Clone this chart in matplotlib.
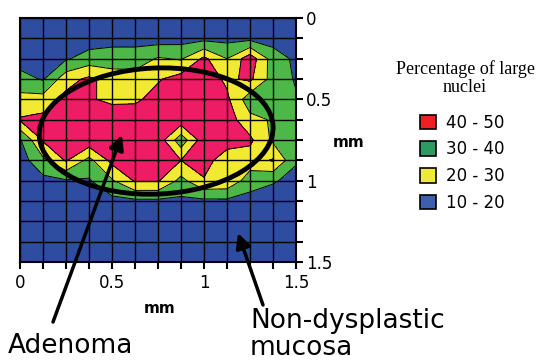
import numpy as np
import matplotlib
matplotlib.use("Agg")
import matplotlib.pyplot as plt
from matplotlib.patches import Ellipse, Patch

# percentage of large nuclei on a 13 x 13 grid, 0.125 mm spacing (rows = y, cols = x)
x_mm = np.arange(13) * 0.125
y_mm = np.arange(13) * 0.125
pct = np.array([
    [14, 14, 14, 14, 14, 14, 14, 14, 14, 14, 14, 14, 14],
    [14, 14, 14, 15, 17, 17, 15, 16, 17, 17, 17, 16, 14],
    [15, 16, 19, 24, 24, 24, 31, 29, 42, 30, 46, 25, 18],
    [24, 19, 36, 42, 36, 35, 39, 44, 46, 38, 42, 26, 19],
    [33, 34, 43, 41, 38, 38, 44, 47, 47, 42, 24, 27, 21],
    [41, 43, 46, 46, 46, 47, 47, 46, 47, 45, 33, 29, 22],
    [19, 41, 46, 47, 47, 47, 46, 24, 46, 46, 42, 28, 24],
    [15, 28, 41, 27, 43, 45, 46, 40, 45, 33, 35, 41, 21],
    [13, 17, 19, 19, 29, 41, 41, 27, 39, 38, 25, 21, 17],
    [13, 14, 15, 16, 17, 18, 18, 18, 18, 18, 16, 15, 14],
    [13, 13, 13, 13, 13, 13, 13, 13, 13, 13, 13, 13, 13],
    [13, 13, 13, 13, 13, 13, 13, 13, 13, 13, 13, 13, 13],
    [13, 13, 13, 13, 13, 13, 13, 13, 13, 13, 13, 13, 13],
])
levels = [10, 20, 30, 40, 50]
map_colors = ['#2e4da0', '#4db848', '#f2e932', '#ee1c64']

legend_labels = ['40 - 50', '30 - 40', '20 - 30', '10 - 20']
legend_colors = ['#ee2024', '#2e9a62', '#efea3a', '#3d5fad']

fig = plt.figure(figsize=(5.38, 3.61), dpi=100)
ax = fig.add_axes([20/538, 1-262/361, 276/538, 244/361])

ax.contourf(x_mm, y_mm, pct, levels=levels, colors=map_colors)
ax.contour(x_mm, y_mm, pct, levels=levels[1:-1], colors='black', linewidths=0.7)

ax.set_xlim(0, 1.5)
ax.set_ylim(1.5, 0)
ax.set_xticks([0, 0.5, 1, 1.5])
ax.set_xticklabels(['0', '0.5', '1', '1.5'])
ax.set_yticks([0, 0.5, 1, 1.5])
ax.set_yticklabels(['0', '0.5', '1', '1.5'])
ax.set_xticks(x_mm, minor=True)
ax.set_yticks(y_mm, minor=True)
ax.yaxis.tick_right()
ax.tick_params(which='both', direction='out', length=5, width=1.5, labelsize=12,
               bottom=True, right=True, left=False, top=False)
ax.tick_params(axis='x', pad=4)
ax.tick_params(axis='y', pad=2)
ax.grid(which='both', color='black', linewidth=1)
ax.set_axisbelow(False)
for s in ax.spines.values():
    s.set_linewidth(1.5)

ax.set_xlabel('mm', fontweight='bold', fontsize=11)
ax.xaxis.set_label_coords(0.507, -0.16)
ax.set_ylabel('mm', fontweight='bold', fontsize=11, rotation=0)
ax.yaxis.set_label_position('right')
ax.yaxis.set_label_coords(1.19, 0.52)

# adenoma outline
ax.add_patch(Ellipse((0.74, 0.695), 1.272, 0.775, angle=-3, fill=False,
                     edgecolor='black', linewidth=3.5, zorder=5))

arrow = dict(arrowstyle='-|>', lw=2.5, color='black', mutation_scale=22, shrinkA=0, shrinkB=0)
ax.annotate('', xy=(0.554, 0.719), xycoords='data',
            xytext=(53, 361-322), textcoords='figure pixels',
            arrowprops=arrow, annotation_clip=False, zorder=6)
ax.annotate('', xy=(1.185, 1.322), xycoords='data',
            xytext=(263, 361-305), textcoords='figure pixels',
            arrowprops=arrow, annotation_clip=False, zorder=6)

fig.text(8/538, 8/361, 'Adenoma', fontsize=19, va='baseline', ha='left')
fig.text(250/538, 1-308/361, 'Non-dysplastic\nmucosa', fontsize=19, va='top', ha='left',
         linespacing=1.05)

fig.text(465/538, 1-60/361, 'Percentage of large\nnuclei', family='Liberation Serif',
         fontsize=13, ha='center', va='top', linespacing=1.1)
handles = [Patch(facecolor=c, edgecolor='black', linewidth=1.2) for c in legend_colors]
fig.legend(handles, legend_labels, loc='upper left', bbox_to_anchor=(413/538, 1-107/361),
           frameon=False, fontsize=12, handlelength=1.0, handleheight=1.0,
           handletextpad=0.6, labelspacing=0.52, borderaxespad=0)

fig.savefig('out.png', dpi=100)
